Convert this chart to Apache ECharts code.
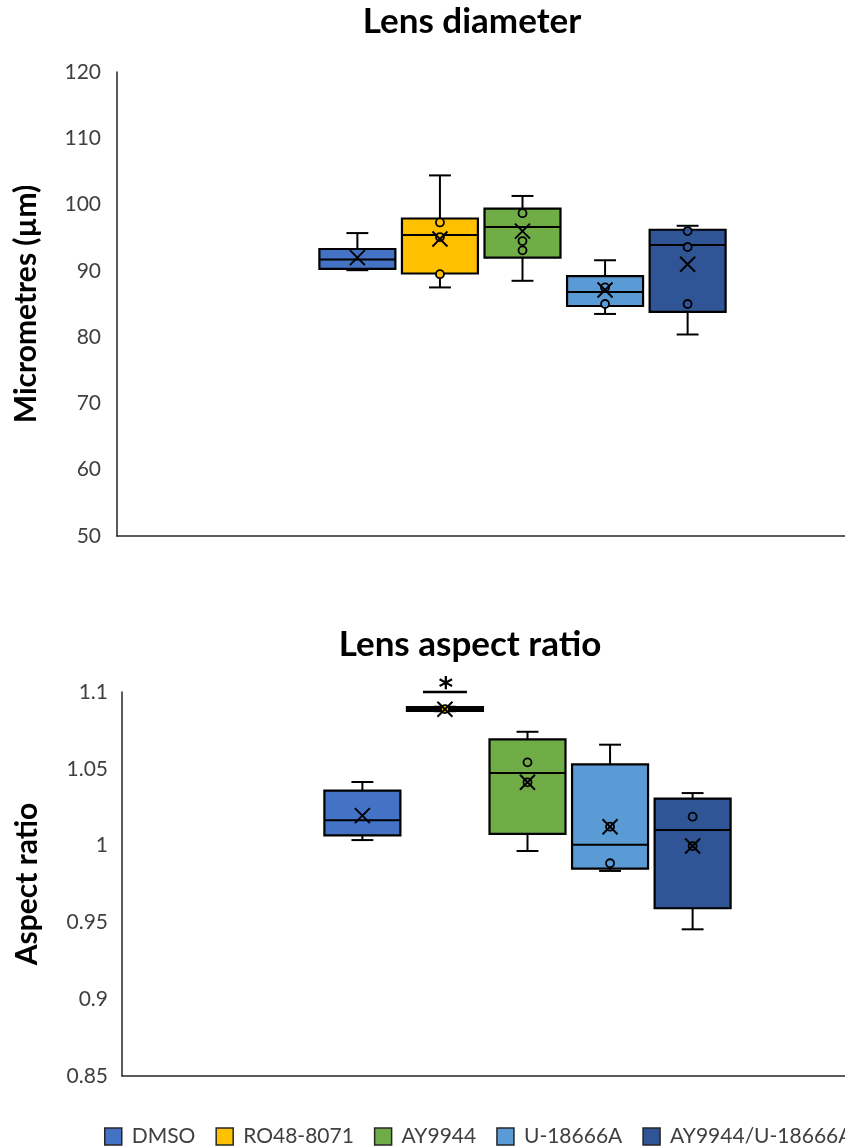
<!DOCTYPE html>
<html>
<head>
<meta charset="utf-8">
<script src="https://cdn.jsdelivr.net/npm/echarts@6/dist/echarts.min.js"></script>
<style>
  html, body { margin: 0; padding: 0; background: #ffffff; }
  #chart { width: 845px; height: 1146px; }
</style>
</head>
<body>
<div id="chart"></div>
<script>
// Treatment groups and their fill colours
const groups = ['DMSO', 'RO48-8071', 'AY9944', 'U-18666A', 'AY9944/U-18666A'];
const groupColors = ['#4472C4', '#FFC000', '#70AD47', '#5B9BD5', '#2F5597'];

// Lens diameter (µm): [min, Q1, median, Q3, max] per group
const diameterBoxes = [
  [90.1, 90.3, 91.7, 93.3, 95.7],
  [87.5, 89.6, 95.4, 97.9, 104.4],
  [88.5, 92.0, 96.6, 99.4, 101.3],
  [83.5, 84.7, 86.8, 89.2, 91.6],
  [80.4, 83.8, 93.9, 96.2, 96.8]
];
const diameterMeans = [92.0, 94.8, 96.0, 87.1, 91.0];
const diameterPoints = [
  [],
  [97.3, 95.1, 89.5],
  [98.7, 94.5, 93.1],
  [87.5, 85.0],
  [96.0, 93.6, 85.0]
];
const diameterAxis = { min: 50, max: 120, step: 10 };

// Lens aspect ratio: [min, Q1, median, Q3, max] per group
const aspectBoxes = [
  [1.0036, 1.0067, 1.0165, 1.0358, 1.0414],
  [1.0875, 1.0877, 1.0889, 1.0902, 1.0904],
  [0.9965, 1.0076, 1.0473, 1.0692, 1.0741],
  [0.9835, 0.9850, 1.0006, 1.0529, 1.0657],
  [0.9455, 0.9592, 1.0102, 1.0306, 1.0342]
];
const aspectMeans = [1.0195, 1.0888, 1.0412, 1.0123, 0.9997];
const aspectPoints = [
  [],
  [1.0889],
  [1.0542, 1.0412],
  [1.0123, 0.9885],
  [1.0188, 0.9997]
];
const aspectMarks = ['', '*', '', '', ''];
const aspectMarkLevel = 1.1;
const aspectAxis = { min: 0.85, max: 1.1, step: 0.05 };

// Layout of the boxes inside the single category band (fractions of band width)
const GROUP_STEP = 0.1018;
const BOX_WIDTH = 0.0937;
const CAP_WIDTH = 0.027;
const FONT = 'Lato';
const INK = '#000000';

function boxSeries(idx, boxes, means, points, marks, markLevel, axisIndex) {
  const color = groupColors[idx];
  const pts = points[idx];
  const mark = marks ? marks[idx] : '';
  return {
    type: 'custom',
    name: groups[idx],
    xAxisIndex: axisIndex,
    yAxisIndex: axisIndex,
    itemStyle: { color: color, borderColor: INK, borderWidth: 1.5 },
    data: [[0].concat(boxes[idx], [means[idx]])],
    encode: { x: 0, y: [1, 2, 3, 4, 5, 6] },
    z: 2,
    renderItem: function (params, api) {
      const band = api.size([1, 0])[0];
      const cx = api.coord([0, api.value(3)])[0] + (idx - (groups.length - 1) / 2) * band * GROUP_STEP;
      const half = band * BOX_WIDTH / 2;
      const cap = band * CAP_WIDTH / 2;
      const y = function (v) { return api.coord([0, v])[1]; };
      const yMin = y(api.value(1)), yQ1 = y(api.value(2)), yMed = y(api.value(3));
      const yQ3 = y(api.value(4)), yMax = y(api.value(5)), yMean = y(api.value(6));
      const ln = { stroke: INK, lineWidth: 2 };
      const children = [
        { type: 'line', shape: { x1: cx, y1: yQ3, x2: cx, y2: yMax }, style: ln },
        { type: 'line', shape: { x1: cx - cap, y1: yMax, x2: cx + cap, y2: yMax }, style: ln },
        { type: 'line', shape: { x1: cx, y1: yQ1, x2: cx, y2: yMin }, style: ln },
        { type: 'line', shape: { x1: cx - cap, y1: yMin, x2: cx + cap, y2: yMin }, style: ln },
        { type: 'rect', shape: { x: cx - half, y: yQ3, width: half * 2, height: yQ1 - yQ3 },
          style: { fill: color, stroke: INK, lineWidth: 2.2 } },
        { type: 'line', shape: { x1: cx - half, y1: yMed, x2: cx + half, y2: yMed }, style: ln }
      ];
      pts.forEach(function (p) {
        children.push({ type: 'circle', shape: { cx: cx, cy: y(p), r: 4 },
          style: { fill: color, stroke: INK, lineWidth: 1.8 } });
      });
      const m = 7.5;
      children.push({ type: 'line', shape: { x1: cx - m, y1: yMean - m, x2: cx + m, y2: yMean + m }, style: ln });
      children.push({ type: 'line', shape: { x1: cx - m, y1: yMean + m, x2: cx + m, y2: yMean - m }, style: ln });
      if (mark) {
        const yMark = y(markLevel);
        children.push({ type: 'line', shape: { x1: cx - 22, y1: yMark, x2: cx + 22, y2: yMark },
          style: { stroke: INK, lineWidth: 2.4 } });
        children.push({ type: 'text', style: { text: mark, x: cx + 1, y: yMark - 2, align: 'center',
          verticalAlign: 'middle', font: 'bold 28px "DejaVu Sans"', fill: INK } });
      }
      return { type: 'group', children: children };
    }
  };
}

function tickText(v) { return String(parseFloat(v.toFixed(2))); }

const series = [];
groups.forEach(function (g, i) {
  series.push(boxSeries(i, diameterBoxes, diameterMeans, diameterPoints, null, null, 0));
});
groups.forEach(function (g, i) {
  series.push(boxSeries(i, aspectBoxes, aspectMeans, aspectPoints, aspectMarks, aspectMarkLevel, 1));
});

const axisLine = { show: true, lineStyle: { color: '#262626', width: 1.5 } };
const labelStyle = { color: '#404040', fontSize: 21, fontFamily: FONT };
const nameStyle = { color: '#000000', fontSize: 30, fontWeight: 'bold', fontFamily: FONT };
const titleStyle = { fontSize: 35, fontWeight: 'bold', fontFamily: FONT, color: '#000' };

const option = {
  backgroundColor: '#ffffff',
  animation: false,
  title: [
    { text: 'Lens diameter', left: 472, top: 4, padding: 0, textAlign: 'center', textStyle: titleStyle },
    { text: 'Lens aspect ratio', left: 470, top: 627, padding: 0, textAlign: 'center', textStyle: titleStyle }
  ],
  legend: {
    data: groups,
    left: 104, top: 1126, width: 1400, padding: 0,
    icon: 'rect', itemWidth: 17, itemHeight: 17, itemGap: 20,
    itemStyle: { borderColor: '#262626', borderWidth: 1.5 },
    textStyle: { color: '#404040', fontSize: 21, fontFamily: FONT, padding: [0, 0, 0, 5] },
    selectedMode: false
  },
  grid: [
    { left: 117, top: 72, width: 811, height: 464, outerBoundsMode: 'none' },
    { left: 122, top: 692, width: 811, height: 384, outerBoundsMode: 'none' }
  ],
  xAxis: [
    { type: 'category', gridIndex: 0, data: ['Lens diameter'], axisLine: axisLine,
      axisTick: { show: false }, axisLabel: { show: false } },
    { type: 'category', gridIndex: 1, data: ['Lens aspect ratio'], axisLine: axisLine,
      axisTick: { show: false }, axisLabel: { show: false } }
  ],
  yAxis: [
    { type: 'value', gridIndex: 0, min: diameterAxis.min, max: diameterAxis.max, interval: diameterAxis.step,
      axisLine: axisLine, axisTick: { show: false }, splitLine: { show: false },
      axisLabel: Object.assign({ margin: 16, formatter: tickText }, labelStyle),
      name: 'Micrometres (µm)', nameLocation: 'middle', nameRotate: 90, nameGap: 76, nameTextStyle: nameStyle },
    { type: 'value', gridIndex: 1, min: aspectAxis.min, max: aspectAxis.max, interval: aspectAxis.step,
      axisLine: axisLine, axisTick: { show: false }, splitLine: { show: false },
      axisLabel: Object.assign({ margin: 14, formatter: tickText }, labelStyle),
      name: 'Aspect ratio', nameLocation: 'middle', nameRotate: 90, nameGap: 80, nameTextStyle: nameStyle }
  ],
  series: series
};

const chart = echarts.init(document.getElementById('chart'), null, { renderer: 'canvas' });
chart.setOption(option);
</script>
</body>
</html>
